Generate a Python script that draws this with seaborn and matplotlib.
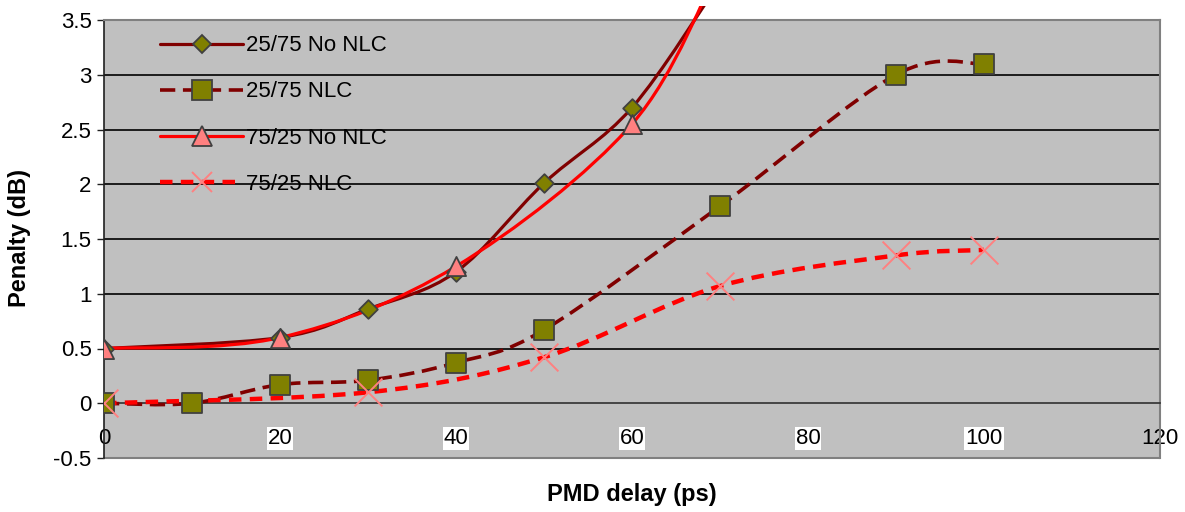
import numpy as np
import matplotlib
matplotlib.use("Agg")
import matplotlib.pyplot as plt
import seaborn as sns
from matplotlib.path import Path
from matplotlib.patches import PathPatch, Rectangle
from matplotlib.lines import Line2D

# ---------------- data ----------------
x_2575_nonlc = [0, 20, 30, 40, 50, 60, 70]
y_2575_nonlc = [0.5, 0.6, 0.86, 1.2, 2.01, 2.7, 3.85]
x_2575_nlc = [0, 10, 20, 30, 40, 50, 70, 90, 100]
y_2575_nlc = [0.0, 0.0, 0.17, 0.21, 0.37, 0.67, 1.8, 3.0, 3.1]
x_7525_nonlc = [0, 20, 40, 60, 70]
y_7525_nonlc = [0.5, 0.6, 1.25, 2.55, 4.0]
x_7525_nlc = [0, 30, 50, 70, 90, 100]
y_7525_nlc = [0.0, 0.1, 0.42, 1.07, 1.35, 1.4]
series_labels = ["25/75 No NLC", "25/75 NLC", "75/25 No NLC", "75/25 NLC"]
x_ticks = [0, 20, 40, 60, 80, 100, 120]
y_ticks = [-0.5, 0, 0.5, 1, 1.5, 2, 2.5, 3, 3.5]
x_label = "PMD delay (ps)"
y_label = "Penalty (dB)"

# ---------------- style ----------------
sns.set_theme(style="white")
plt.rcParams["font.family"] = ["Liberation Sans", "DejaVu Sans"]
plt.rcParams["lines.scale_dashes"] = False
plt.rcParams["text.color"] = "black"
plt.rcParams["axes.labelcolor"] = "black"
plt.rcParams["xtick.color"] = "black"
plt.rcParams["ytick.color"] = "black"

DARKRED = "#800000"
RED = "#FF0000"
OLIVE = "#808000"
PINK = "#FF8080"
EDGE = "#404040"
BG = "#C0C0C0"
FS = 16
LFS = 17

fig = plt.figure(figsize=(11.85, 5.12), dpi=100)
ax = fig.add_axes([104 / 1185, 1 - 458 / 512, (1160 - 104) / 1185, (458 - 20) / 512])
ax.set_facecolor(BG)
ax.set_xlim(0, 120)
ax.set_ylim(-0.5, 3.5)


def smooth_path(xs, ys):
    P = np.column_stack([xs, ys]).astype(float)
    n = len(P)
    verts = [P[0]]
    codes = [Path.MOVETO]
    for i in range(n - 1):
        pm = P[i - 1] if i > 0 else P[i]
        pp = P[i + 2] if i + 2 < n else P[i + 1]
        c1 = P[i] + (P[i + 1] - pm) / 6.0
        c2 = P[i + 1] - (pp - P[i]) / 6.0
        verts += [c1, c2, P[i + 1]]
        codes += [Path.CURVE4] * 3
    return Path(verts, codes)


clip_rect = Rectangle((0, -0.02), 1, 1.02 + 14 / 438, transform=ax.transAxes)

dash_dr = (0, (11, 5.5))
dash_r = (0, (9, 6))

line_specs = [
    (x_2575_nonlc, y_2575_nonlc, DARKRED, 2.3, "-", True),
    (x_2575_nlc, y_2575_nlc, DARKRED, 2.6, dash_dr, False),
    (x_7525_nonlc, y_7525_nonlc, RED, 2.3, "-", True),
    (x_7525_nlc, y_7525_nlc, RED, 3.2, dash_r, False),
]
marker_specs = [
    dict(marker="D", s=90, color=OLIVE, edgecolor=EDGE, linewidth=1.3),
    dict(marker="s", s=190, color=OLIVE, edgecolor=EDGE, linewidth=1.3),
    dict(marker="^", s=190, color=PINK, edgecolor=EDGE, linewidth=1.3),
    dict(marker="x", s=400, color=PINK, linewidth=1.4),
]

for k, ((xs, ys, col, lw, ls, ext), mk) in enumerate(zip(line_specs, marker_specs)):
    patch = PathPatch(smooth_path(xs, ys), facecolor="none", edgecolor=col, lw=lw,
                      linestyle=ls, capstyle="butt", joinstyle="round",
                      transform=ax.transData, zorder=3 + k * 0.1)
    ax.add_patch(patch)
    if ext:
        patch.set_clip_path(clip_rect)
    sns.scatterplot(x=xs, y=ys, ax=ax, zorder=5 + k * 0.1, legend=False, **mk)

# gridlines
for yv in y_ticks:
    if 0 < yv < 3.5:
        ax.axhline(yv, color="black", lw=1.2, zorder=1)

# spines
ax.spines["bottom"].set_position(("data", 0))
ax.spines["bottom"].set_color("#303030")
ax.spines["bottom"].set_linewidth(1.2)
ax.spines["left"].set_color("#202020")
ax.spines["left"].set_linewidth(1.2)
for s in ("top", "right"):
    ax.spines[s].set_color("#808080")
    ax.spines[s].set_linewidth(1.5)
ax.add_line(Line2D([0, 1], [0, 0], transform=ax.transAxes, color="#808080",
                   lw=1.5, clip_on=False, zorder=2.5))

ax.set_xticks(x_ticks)
ax.set_xticklabels([str(v) for v in x_ticks])
ax.set_yticks(y_ticks)
ax.set_yticklabels([("%g" % v) for v in y_ticks])
ax.tick_params(axis="x", direction="out", length=6, width=1, color="#303030",
               pad=12, labelsize=FS, labelcolor="black")
ax.tick_params(axis="y", direction="out", length=5, width=1, color="#202020",
               pad=4, labelsize=FS, labelcolor="black", left=True)
for lab in ax.get_xticklabels():
    if lab.get_text() not in ("0", "120"):
        lab.set_bbox(dict(facecolor="white", edgecolor="none", pad=0.8))

ax.set_xlabel("")
ax.set_ylabel("")
fig.text((104 + 1160) / 2 / 1185, 1 - 494 / 512, x_label, ha="center", va="center",
         fontsize=LFS, fontweight="bold", color="black")
fig.text(20 / 1185, 1 - 238 / 512, y_label, ha="center", va="center", rotation=90,
         fontsize=LFS, fontweight="bold", color="black")

# legend
handles = [
    Line2D([], [], color=DARKRED, lw=2.3, marker="D", markersize=9.5,
           markerfacecolor=OLIVE, markeredgecolor=EDGE, markeredgewidth=1.3),
    Line2D([], [], color=DARKRED, lw=2.6, linestyle=dash_dr, marker="s", markersize=13.8,
           markerfacecolor=OLIVE, markeredgecolor=EDGE, markeredgewidth=1.3),
    Line2D([], [], color=RED, lw=2.3, marker="^", markersize=13.8,
           markerfacecolor=PINK, markeredgecolor=EDGE, markeredgewidth=1.3),
    Line2D([], [], color=RED, lw=3.2, linestyle=dash_r, marker="x", markersize=14,
           markeredgecolor=PINK, markeredgewidth=1.4),
]
leg = ax.legend(handles, series_labels, loc="upper left", bbox_to_anchor=(0.053, 0.965),
                frameon=False, fontsize=FS, handlelength=3.75, handletextpad=0.1,
                labelspacing=1.13, borderpad=0, borderaxespad=0, numpoints=1,
                labelcolor="black")

fig.savefig("out.png", dpi=100)
